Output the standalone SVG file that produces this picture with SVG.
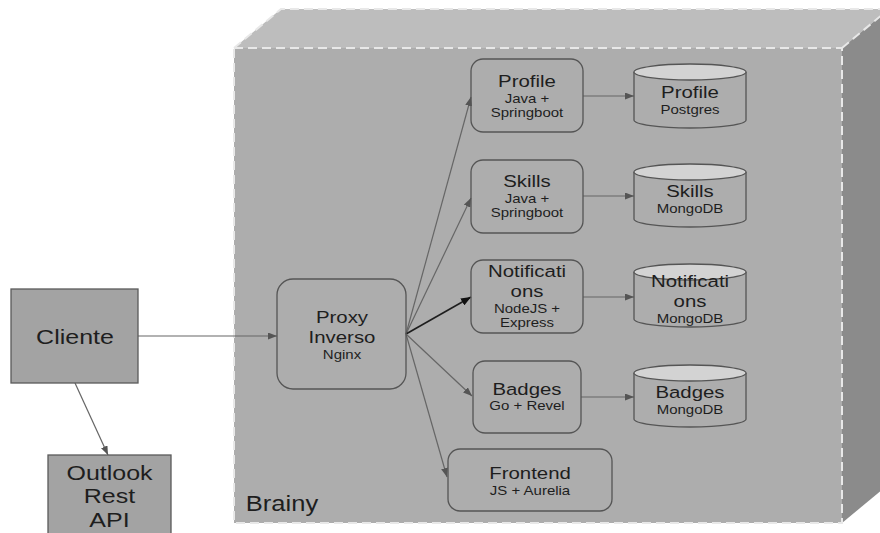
<svg xmlns="http://www.w3.org/2000/svg" width="880" height="533" viewBox="0 0 880 533">
<defs>
<style>
text{font-family:"Liberation Sans",Arial,sans-serif;fill:#1e1e1e;text-anchor:middle}
.big{font-size:21px}
.t{font-size:17px}
.s{font-size:12.5px}
.box{fill:none;stroke:#555;stroke-width:1.3}
.ext{fill:#a3a3a3;stroke:#5a5a5a;stroke-width:1.3}
.cyl{fill:#adadad;stroke:#555;stroke-width:1.3}
.cyltop{fill:#d3d3d3;stroke:#555;stroke-width:1.3}
.edge{fill:none;stroke:#666;stroke-width:1.2}
.edge-dark{fill:none;stroke:#1e1e1e;stroke-width:1.6}
.dash{fill:none;stroke:#e8e8e8;stroke-width:2;stroke-dasharray:9 5}
</style>
<marker id="ah" markerUnits="userSpaceOnUse" markerWidth="9" markerHeight="7" refX="9" refY="3.5" orient="auto">
<path d="M0,0 L9,3.5 L0,7 z" fill="#555"/>
</marker>
<marker id="ahd" markerUnits="userSpaceOnUse" markerWidth="10" markerHeight="8" refX="10" refY="4" orient="auto">
<path d="M0,0 L10,4 L0,8 z" fill="#111"/>
</marker>
</defs>

<g id="brainy">
<polygon points="234,48 281,9 889,9 842,48" fill="#bdbdbd"/>
<polygon points="842,48 889,9 889,484 842,523" fill="#8b8b8b"/>
<rect x="234" y="48" width="608" height="475" fill="#adadad"/>
<path class="dash" d="M234,48 L281,9 L889,9 M842,48 L889,9"/>
<rect class="dash" x="234" y="48" width="608" height="475"/>
<text class="big" x="0" y="511" transform="matrix(1.16 0 0 1 282 0)" style="font-size:22px">Brainy</text>
</g>

<g id="connectors">
<line class="edge" x1="138" y1="336" x2="277" y2="336" marker-end="url(#ah)"/>
<line class="edge" x1="75" y1="383" x2="108" y2="455" marker-end="url(#ah)"/>
<line class="edge" x1="406" y1="334" x2="471" y2="97" marker-end="url(#ah)"/>
<line class="edge" x1="406" y1="334" x2="471" y2="198" marker-end="url(#ah)"/>
<line class="edge-dark" x1="406" y1="334" x2="471" y2="297" marker-end="url(#ahd)"/>
<line class="edge" x1="406" y1="334" x2="472" y2="396" marker-end="url(#ah)"/>
<line class="edge" x1="406" y1="334" x2="447" y2="477" marker-end="url(#ah)"/>
<line class="edge" x1="583" y1="96" x2="634" y2="96" marker-end="url(#ah)"/>
<line class="edge" x1="583" y1="196" x2="634" y2="196" marker-end="url(#ah)"/>
<line class="edge" x1="583" y1="297" x2="634" y2="297" marker-end="url(#ah)"/>
<line class="edge" x1="581" y1="397" x2="634" y2="397" marker-end="url(#ah)"/>
</g>

<g id="cliente">
<rect class="ext" x="11" y="289" width="127" height="94"/>
<text class="big" x="0" y="344" transform="matrix(1.19 0 0 1 75 0)">Cliente</text>
</g>

<g id="outlook">
<rect class="ext" x="48" y="455" width="123" height="90"/>
<text class="big" x="0" y="480" transform="matrix(1.19 0 0 1 109.5 0)">Outlook</text>
<text class="big" x="0" y="503" transform="matrix(1.19 0 0 1 109.5 0)">Rest</text>
<text class="big" x="0" y="527" transform="matrix(1.19 0 0 1 109.5 0)">API</text>
</g>

<g id="proxy">
<rect class="box" x="277" y="279" width="129" height="110" rx="16"/>
<text class="t" x="0" y="323" transform="matrix(1.2 0 0 1 342 0)">Proxy</text>
<text class="t" x="0" y="343" transform="matrix(1.2 0 0 1 342 0)">Inverso</text>
<text class="s" x="0" y="359" transform="matrix(1.2 0 0 1 342 0)">Nginx</text>
</g>

<g id="profile-svc">
<rect class="box" x="471" y="59" width="112" height="73" rx="12"/>
<text class="t" x="0" y="87" transform="matrix(1.2 0 0 1 527 0)">Profile</text>
<text class="s" x="0" y="103" transform="matrix(1.2 0 0 1 527 0)">Java +</text>
<text class="s" x="0" y="117" transform="matrix(1.2 0 0 1 527 0)">Springboot</text>
</g>

<g id="skills-svc">
<rect class="box" x="471" y="160" width="112" height="73" rx="12"/>
<text class="t" x="0" y="187" transform="matrix(1.2 0 0 1 527 0)">Skills</text>
<text class="s" x="0" y="203" transform="matrix(1.2 0 0 1 527 0)">Java +</text>
<text class="s" x="0" y="217" transform="matrix(1.2 0 0 1 527 0)">Springboot</text>
</g>

<g id="notifications-svc">
<rect class="box" x="471" y="260" width="112" height="73" rx="12"/>
<text class="t" x="0" y="277" transform="matrix(1.2 0 0 1 527 0)">Notificati</text>
<text class="t" x="0" y="297" transform="matrix(1.2 0 0 1 527 0)">ons</text>
<text class="s" x="0" y="313" transform="matrix(1.2 0 0 1 527 0)">NodeJS +</text>
<text class="s" x="0" y="327" transform="matrix(1.2 0 0 1 527 0)">Express</text>
</g>

<g id="badges-svc">
<rect class="box" x="473" y="361" width="108" height="72" rx="12"/>
<text class="t" x="0" y="395" transform="matrix(1.2 0 0 1 527 0)">Badges</text>
<text class="s" x="0" y="410" transform="matrix(1.2 0 0 1 527 0)">Go + Revel</text>
</g>

<g id="frontend">
<rect class="box" x="448" y="449" width="164" height="62" rx="12"/>
<text class="t" x="0" y="479" transform="matrix(1.2 0 0 1 530 0)">Frontend</text>
<text class="s" x="0" y="495" transform="matrix(1.2 0 0 1 530 0)">JS + Aurelia</text>
</g>

<g id="profile-db">
<path class="cyl" d="M634,72 L634,120 A56,8 0 0 0 746,120 L746,72"/>
<ellipse class="cyltop" cx="690" cy="72" rx="56" ry="8"/>
<text class="t" x="0" y="98" transform="matrix(1.2 0 0 1 690 0)">Profile</text>
<text class="s" x="0" y="114" transform="matrix(1.2 0 0 1 690 0)">Postgres</text>
</g>

<g id="skills-db">
<path class="cyl" d="M634,172 L634,219 A56,8 0 0 0 746,219 L746,172"/>
<ellipse class="cyltop" cx="690" cy="172" rx="56" ry="8"/>
<text class="t" x="0" y="197" transform="matrix(1.2 0 0 1 690 0)">Skills</text>
<text class="s" x="0" y="213" transform="matrix(1.2 0 0 1 690 0)">MongoDB</text>
</g>

<g id="notifications-db">
<path class="cyl" d="M634,272 L634,319 A56,8 0 0 0 746,319 L746,272"/>
<ellipse class="cyltop" cx="690" cy="272" rx="56" ry="8"/>
<text class="t" x="0" y="287" transform="matrix(1.2 0 0 1 690 0)">Notificati</text>
<text class="t" x="0" y="307" transform="matrix(1.2 0 0 1 690 0)">ons</text>
<text class="s" x="0" y="323" transform="matrix(1.2 0 0 1 690 0)">MongoDB</text>
</g>

<g id="badges-db">
<path class="cyl" d="M634,373 L634,419 A56,8 0 0 0 746,419 L746,373"/>
<ellipse class="cyltop" cx="690" cy="373" rx="56" ry="8"/>
<text class="t" x="0" y="398" transform="matrix(1.2 0 0 1 690 0)">Badges</text>
<text class="s" x="0" y="414" transform="matrix(1.2 0 0 1 690 0)">MongoDB</text>
</g>
</svg>
